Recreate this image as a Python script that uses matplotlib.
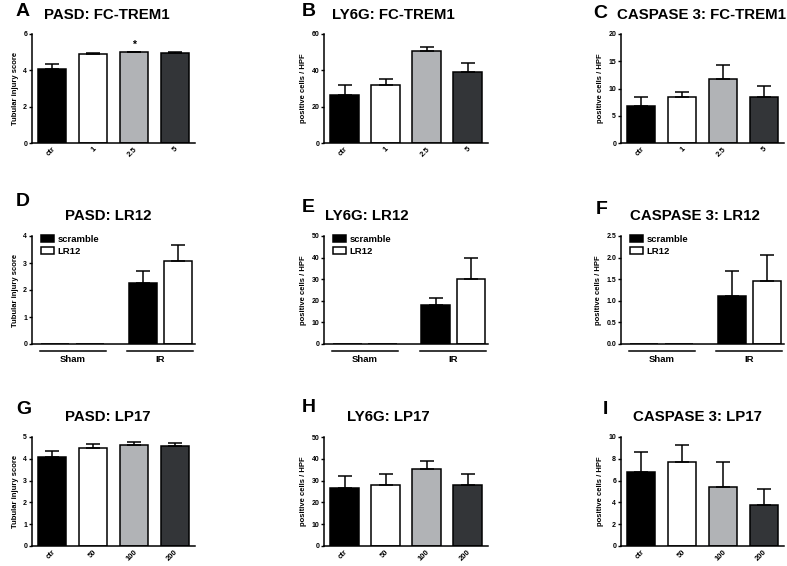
import matplotlib
matplotlib.use("Agg")
import matplotlib.pyplot as plt
import matplotlib.transforms as mtransforms
from matplotlib.patches import Patch
import numpy as np

plt.rcParams['font.family'] = ['Liberation Sans', 'DejaVu Sans']
plt.rcParams['font.weight'] = 'bold'

# ---------------- data ----------------
dose_fc = ["ctr", "1", "2.5", "5"]
dose_lp = ["ctr", "50", "100", "200"]
groups_lr = ["Sham", "IR"]
legend_lr = ["scramble", "LR12"]

pasd_fc = [4.08, 4.90, 5.00, 4.97]
pasd_fc_err = [0.25, 0.07, 0.03, 0.03]
ly6g_fc = [26.2, 32.2, 50.7, 39.1]
ly6g_fc_err = [5.8, 3.3, 2.3, 5.2]
casp_fc = [6.8, 8.5, 11.8, 8.5]
casp_fc_err = [1.6, 0.8, 2.5, 1.9]

# LR12: Sham has no bars (0); IR scramble / LR12
pasd_lr_scr = [0.0, 2.27]
pasd_lr_scr_err = [0.0, 0.45]
pasd_lr_lr = [0.0, 3.08]
pasd_lr_lr_err = [0.0, 0.60]
ly6g_lr_scr = [0.0, 17.9]
ly6g_lr_scr_err = [0.0, 3.4]
ly6g_lr_lr = [0.0, 30.2]
ly6g_lr_lr_err = [0.0, 9.5]
casp_lr_scr = [0.0, 1.10]
casp_lr_scr_err = [0.0, 0.60]
casp_lr_lr = [0.0, 1.46]
casp_lr_lr_err = [0.0, 0.60]

pasd_lp = [4.10, 4.48, 4.62, 4.58]
pasd_lp_err = [0.27, 0.20, 0.13, 0.13]
ly6g_lp = [26.5, 27.8, 35.4, 27.8]
ly6g_lp_err = [5.7, 5.3, 3.7, 5.1]
casp_lp = [6.8, 7.72, 5.38, 3.78]
casp_lp_err = [1.8, 1.54, 2.37, 1.45]

bar_colors = ["#000000", "#ffffff", "#b1b3b6", "#333538"]
lr_colors = ["#000000", "#ffffff"]

W, H = 787, 566
fig = plt.figure(figsize=(W / 100, H / 100), dpi=100)

cols = [(32, 195), (324, 488), (621, 784)]
rows = [(34, 143), (236, 344), (437, 546)]


def make_ax(c, r):
    l, rr = cols[c]
    t, b = rows[r]
    ax = fig.add_axes([l / W, 1 - b / H, (rr - l) / W, (b - t) / H])
    for s in ["top", "right"]:
        ax.spines[s].set_visible(False)
    for s in ["left", "bottom"]:
        ax.spines[s].set_linewidth(1.1)
    ax.tick_params(axis='y', length=2.5, width=1.0, pad=1, labelsize=5)
    ax.tick_params(axis='x', length=0, pad=2, labelsize=5.5)
    return ax


def ftext(x, y, s, size, ha='left'):
    fig.text(x / W, 1 - y / H, s, fontsize=size, fontweight='bold', ha=ha, va='center')


def dose_panel(ax, labels, vals, errs, ymax, step, ylabel, fmt=None):
    x = np.arange(len(vals))
    ax.bar(x, vals, width=0.69, color=bar_colors, edgecolor='k', linewidth=1.1, zorder=2)
    ax.errorbar(x, vals, yerr=[np.zeros(len(vals)), errs], fmt='none', ecolor='k',
                elinewidth=1.1, capsize=5, capthick=1.1, zorder=3)
    ax.set_xlim(-0.5, len(vals) - 0.5)
    ax.set_ylim(0, ymax)
    ax.set_yticks(np.arange(0, ymax + step / 2, step))
    if fmt:
        ax.yaxis.set_major_formatter(plt.FormatStrFormatter(fmt))
    ax.set_xticks(x)
    ax.set_xticklabels(labels, rotation=45, ha='right', rotation_mode='anchor', fontweight='bold')
    ax.set_ylabel(ylabel, fontsize=5.5, fontweight='bold', labelpad=3)


def lr_panel(ax, scr, scr_err, lr, lr_err, ymax, step, ylabel, fmt=None):
    centers = np.array([1.0, 3.15])
    off = 0.43
    ax.bar(centers - off, scr, width=0.69, color=lr_colors[0], edgecolor='k', linewidth=1.1, zorder=2)
    ax.bar(centers + off, lr, width=0.69, color=lr_colors[1], edgecolor='k', linewidth=1.1, zorder=2)
    ax.errorbar(centers[1:] - off, scr[1:], yerr=[[0], scr_err[1:]], fmt='none', ecolor='k',
                elinewidth=1.1, capsize=5, capthick=1.1, zorder=3)
    ax.errorbar(centers[1:] + off, lr[1:], yerr=[[0], lr_err[1:]], fmt='none', ecolor='k',
                elinewidth=1.1, capsize=5, capthick=1.1, zorder=3)
    ax.set_xlim(0, 4)
    ax.set_ylim(0, ymax)
    ax.set_yticks(np.arange(0, ymax + step / 2, step))
    if fmt:
        ax.yaxis.set_major_formatter(plt.FormatStrFormatter(fmt))
    ax.set_xticks([])
    ax.set_ylabel(ylabel, fontsize=5.5, fontweight='bold', labelpad=3)
    trans = mtransforms.blended_transform_factory(ax.transData, ax.transAxes)
    for c, g in zip(centers, groups_lr):
        ax.plot([c - 0.81, c + 0.81], [-0.065, -0.065], color='k', lw=1.1,
                transform=trans, clip_on=False)
        ax.text(c, -0.14, g, fontsize=6.8, fontweight='bold', ha='center', va='center',
                transform=trans)
    handles = [Patch(facecolor=lr_colors[0], edgecolor='k', linewidth=1.1),
               Patch(facecolor=lr_colors[1], edgecolor='k', linewidth=1.1)]
    ax.legend(handles, legend_lr, loc='upper left', bbox_to_anchor=(0.02, 1.06),
              frameon=False, handlelength=1.35, handleheight=0.75,
              handletextpad=0.4, labelspacing=0.25, borderaxespad=0.2,
              prop={'weight': 'bold', 'size': 6.8})


tis = "Tubular injury score"
pos = "positive cells / HPF"

axA = make_ax(0, 0)
dose_panel(axA, dose_fc, pasd_fc, pasd_fc_err, 6, 2, tis)
axA.text(2, 5.4, "*", ha='center', va='center', fontsize=7.5, fontweight='bold')
axB = make_ax(1, 0)
dose_panel(axB, dose_fc, ly6g_fc, ly6g_fc_err, 60, 20, pos)
axC = make_ax(2, 0)
dose_panel(axC, dose_fc, casp_fc, casp_fc_err, 20, 5, pos)

axD = make_ax(0, 1)
lr_panel(axD, pasd_lr_scr, pasd_lr_scr_err, pasd_lr_lr, pasd_lr_lr_err, 4, 1, tis)
axE = make_ax(1, 1)
lr_panel(axE, ly6g_lr_scr, ly6g_lr_scr_err, ly6g_lr_lr, ly6g_lr_lr_err, 50, 10, pos)
axF = make_ax(2, 1)
lr_panel(axF, casp_lr_scr, casp_lr_scr_err, casp_lr_lr, casp_lr_lr_err, 2.5, 0.5, pos, fmt='%.1f')

axG = make_ax(0, 2)
dose_panel(axG, dose_lp, pasd_lp, pasd_lp_err, 5, 1, tis)
axH = make_ax(1, 2)
dose_panel(axH, dose_lp, ly6g_lp, ly6g_lp_err, 50, 10, pos)
axI = make_ax(2, 2)
dose_panel(axI, dose_lp, casp_lp, casp_lp_err, 10, 2, pos)

# panel letters
for (x, y, s) in [(16, 12, "A"), (302, 11, "B"), (593, 13, "C"),
                  (16, 202, "D"), (302, 208, "E"), (596, 209, "F"),
                  (16, 410, "G"), (302, 408, "H"), (603, 410, "I")]:
    ftext(x, y, s, 14)

# titles
for (x, y, s) in [(44, 15, "PASD: FC-TREM1"), (332, 15, "LY6G: FC-TREM1"),
                  (617, 15, "CASPASE 3: FC-TREM1"),
                  (65, 216, "PASD: LR12"), (325, 216, "LY6G: LR12"),
                  (630, 216, "CASPASE 3: LR12"),
                  (65, 417, "PASD: LP17"), (347, 417, "LY6G: LP17"),
                  (633, 417, "CASPASE 3: LP17")]:
    ftext(x, y, s, 10.8)

fig.savefig("out.png", dpi=100)
